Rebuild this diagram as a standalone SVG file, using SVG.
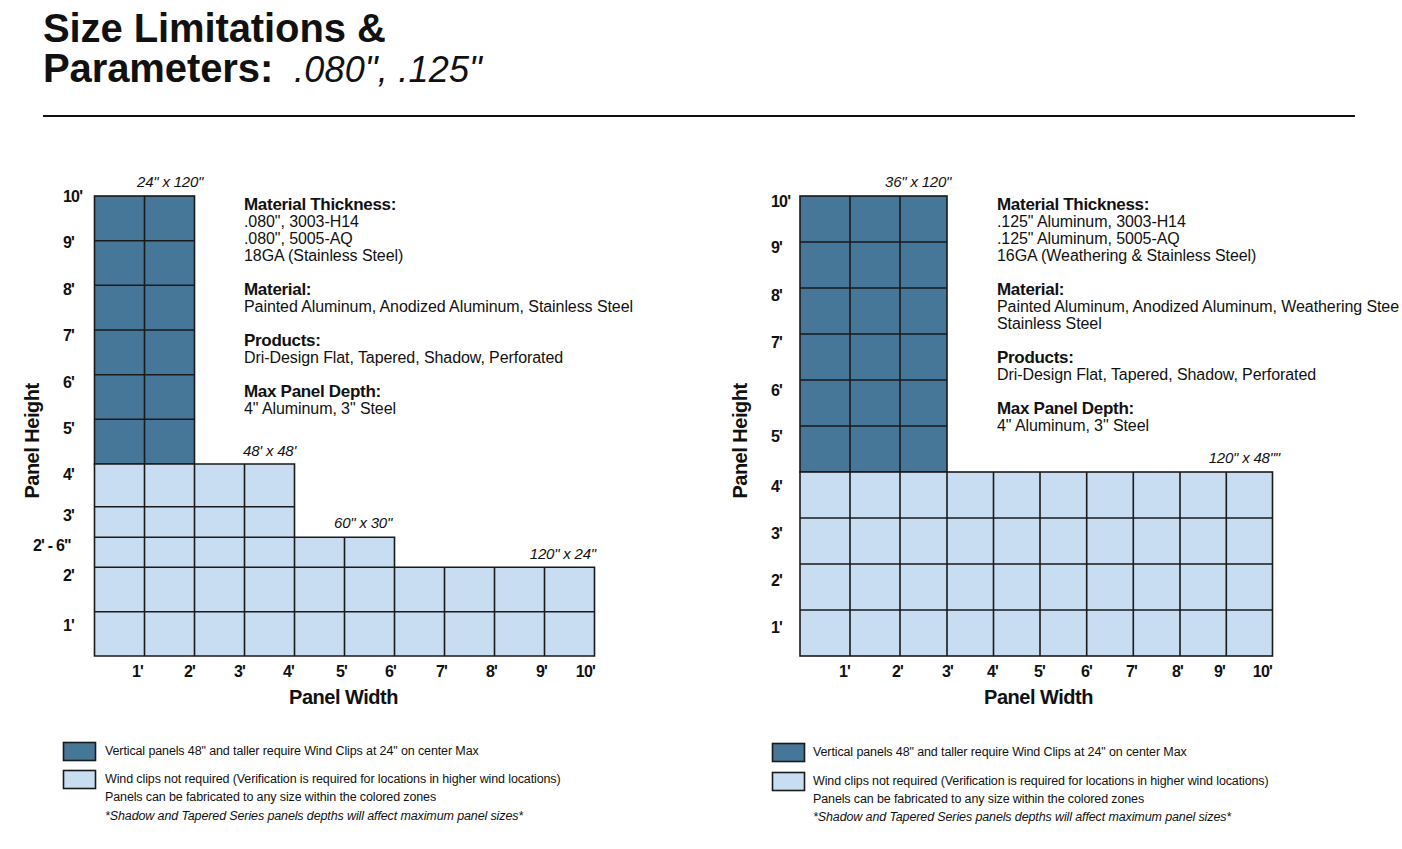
<svg xmlns="http://www.w3.org/2000/svg" width="1402" height="849" viewBox="0 0 1402 849">
<style>
text{font-family:"Liberation Sans",Arial,sans-serif;fill:#111}
.title{font-size:40px;font-weight:bold;letter-spacing:-0.1px}
.titlei{font-size:36px;font-style:italic;font-weight:normal;letter-spacing:0.2px}
.ax{font-size:16px;font-weight:bold;letter-spacing:-0.8px}
.axn{font-size:20px;font-weight:bold;letter-spacing:-0.5px}
.h{font-size:17px;font-weight:bold;letter-spacing:-0.3px}
.b{font-size:16px;letter-spacing:-0.08px}
.an{font-size:15px;font-style:italic;letter-spacing:-0.2px}
.lg{font-size:12.5px;letter-spacing:-0.12px}
.lgi{font-size:12.5px;font-style:italic;letter-spacing:-0.12px}
.dark{fill:#467698;stroke:#1a1a1a;stroke-width:1.6}
.light{fill:#c8dcf2;stroke:#1a1a1a;stroke-width:1.6}
.grid{fill:none;stroke:#1a1a1a;stroke-width:1.6}
</style>

<g id="title">
<text class="title" x="43" y="42">Size Limitations &amp;</text>
<text class="title" x="43" y="82">Parameters: <tspan class="titlei" x="294">.080", .125"</tspan></text>
<line x1="43" y1="116" x2="1355" y2="116" stroke="#111" stroke-width="2"/>
</g>

<!-- LEFT CHART -->
<g id="left-chart">
<g id="left-dark-zone">
<rect class="dark" x="94.5" y="196" width="100" height="268"/>
<path class="grid" d="M144.5 196V464M94.5 240.7H194.5M94.5 285.3H194.5M94.5 330H194.5M94.5 374.7H194.5M94.5 419.3H194.5"/>
</g>
<g id="left-light-zone">
<path class="light" d="M94.5 464H294.5V537.3H394.5V567.3H594.5V656H94.5Z"/>
<path class="grid" d="M94.5 506.7H294.5M94.5 537.3H294.5M94.5 567.3H394.5M94.5 611.7H594.5M144.5 464V656M194.5 464V656M244.5 464V656M294.5 537.3V656M344.5 537.3V656M394.5 567.3V656M444.5 567.3V656M494.5 567.3V656M544.5 567.3V656"/>
</g>
<g id="left-annotations">
<text class="an" x="137" y="187">24" x 120"</text>
<text class="an" x="243" y="456">48' x 48'</text>
<text class="an" x="334" y="528">60" x 30"</text>
<text class="an" x="596" y="559" text-anchor="end">120" x 24"</text>
</g>
<g id="left-y-axis">
<text class="ax" x="63" y="202">10'</text>
<text class="ax" x="63" y="248">9'</text>
<text class="ax" x="63" y="295">8'</text>
<text class="ax" x="63" y="341">7'</text>
<text class="ax" x="63" y="388">6'</text>
<text class="ax" x="63" y="434">5'</text>
<text class="ax" x="63" y="480">4'</text>
<text class="ax" x="63" y="521">3'</text>
<text class="ax" x="33" y="551">2' - 6"</text>
<text class="ax" x="63" y="581">2'</text>
<text class="ax" x="63" y="631">1'</text>
<text class="axn" transform="translate(39,441) rotate(-90)" text-anchor="middle">Panel Height</text>
</g>
<g id="left-x-axis" text-anchor="end">
<text class="ax" x="143" y="677">1'</text>
<text class="ax" x="195" y="677">2'</text>
<text class="ax" x="245" y="677">3'</text>
<text class="ax" x="294" y="677">4'</text>
<text class="ax" x="347" y="677">5'</text>
<text class="ax" x="396" y="677">6'</text>
<text class="ax" x="447" y="677">7'</text>
<text class="ax" x="497" y="677">8'</text>
<text class="ax" x="547" y="677">9'</text>
<text class="ax" x="595" y="677">10'</text>
<text class="axn" x="343.5" y="704" text-anchor="middle">Panel Width</text>
</g>
<g id="left-specs">
<text class="h" x="244" y="210">Material Thickness:</text>
<text class="b" x="244" y="227">.080", 3003-H14</text>
<text class="b" x="244" y="244">.080", 5005-AQ</text>
<text class="b" x="244" y="261">18GA (Stainless Steel)</text>
<text class="h" x="244" y="295">Material:</text>
<text class="b" x="244" y="312">Painted Aluminum, Anodized Aluminum, Stainless Steel</text>
<text class="h" x="244" y="346">Products:</text>
<text class="b" x="244" y="363">Dri-Design Flat, Tapered, Shadow, Perforated</text>
<text class="h" x="244" y="397">Max Panel Depth:</text>
<text class="b" x="244" y="414">4" Aluminum, 3" Steel</text>
</g>
<g id="left-legend">
<rect class="dark" x="63.5" y="742.5" width="32" height="18"/>
<rect class="light" x="63.5" y="770.5" width="32" height="18"/>
<text class="lg" x="105" y="755">Vertical panels 48" and taller require Wind Clips at 24" on center Max</text>
<text class="lg" x="105" y="783">Wind clips not required (Verification is required for locations in higher wind locations)</text>
<text class="lg" x="105" y="801">Panels can be fabricated to any size within the colored zones</text>
<text class="lgi" x="105" y="820">*Shadow and Tapered Series panels depths will affect maximum panel sizes*</text>
</g>
</g>

<!-- RIGHT CHART -->
<g id="right-chart">
<g id="right-dark-zone">
<rect class="dark" x="800" y="196" width="147" height="276"/>
<path class="grid" d="M850 196V472M900 196V472M800 242H947M800 288H947M800 334H947M800 380H947M800 426H947"/>
</g>
<g id="right-light-zone">
<rect class="light" x="800" y="472" width="472.5" height="184"/>
<path class="grid" d="M850 472V656M900 472V656M947 472V656M993.5 472V656M1040 472V656M1086.7 472V656M1133.3 472V656M1180 472V656M1226.3 472V656M800 518H1272.5M800 564H1272.5M800 610H1272.5"/>
</g>
<g id="right-annotations">
<text class="an" x="885" y="187">36" x 120"</text>
<text class="an" x="1280" y="463" text-anchor="end">120" x 48""</text>
</g>
<g id="right-y-axis">
<text class="ax" x="771" y="207">10'</text>
<text class="ax" x="771" y="253">9'</text>
<text class="ax" x="771" y="301">8'</text>
<text class="ax" x="771" y="348">7'</text>
<text class="ax" x="771" y="396">6'</text>
<text class="ax" x="771" y="442">5'</text>
<text class="ax" x="771" y="492">4'</text>
<text class="ax" x="771" y="539">3'</text>
<text class="ax" x="771" y="586">2'</text>
<text class="ax" x="771" y="633">1'</text>
<text class="axn" transform="translate(747,441) rotate(-90)" text-anchor="middle">Panel Height</text>
</g>
<g id="right-x-axis" text-anchor="end">
<text class="ax" x="850" y="677">1'</text>
<text class="ax" x="903" y="677">2'</text>
<text class="ax" x="953" y="677">3'</text>
<text class="ax" x="998" y="677">4'</text>
<text class="ax" x="1045" y="677">5'</text>
<text class="ax" x="1092" y="677">6'</text>
<text class="ax" x="1137" y="677">7'</text>
<text class="ax" x="1183" y="677">8'</text>
<text class="ax" x="1225" y="677">9'</text>
<text class="ax" x="1272" y="677">10'</text>
<text class="axn" x="1038.5" y="704" text-anchor="middle">Panel Width</text>
</g>
<g id="right-specs">
<text class="h" x="997" y="210">Material Thickness:</text>
<text class="b" x="997" y="227">.125" Aluminum, 3003-H14</text>
<text class="b" x="997" y="244">.125" Aluminum, 5005-AQ</text>
<text class="b" x="997" y="261">16GA (Weathering &amp; Stainless Steel)</text>
<text class="h" x="997" y="295">Material:</text>
<text class="b" x="997" y="312">Painted Aluminum, Anodized Aluminum, Weathering Stee</text>
<text class="b" x="997" y="329">Stainless Steel</text>
<text class="h" x="997" y="363">Products:</text>
<text class="b" x="997" y="380">Dri-Design Flat, Tapered, Shadow, Perforated</text>
<text class="h" x="997" y="414">Max Panel Depth:</text>
<text class="b" x="997" y="431">4" Aluminum, 3" Steel</text>
</g>
<g id="right-legend">
<rect class="dark" x="772.5" y="743.5" width="32" height="18"/>
<rect class="light" x="772.5" y="772.5" width="32" height="18"/>
<text class="lg" x="813" y="756">Vertical panels 48" and taller require Wind Clips at 24" on center Max</text>
<text class="lg" x="813" y="785">Wind clips not required (Verification is required for locations in higher wind locations)</text>
<text class="lg" x="813" y="803">Panels can be fabricated to any size within the colored zones</text>
<text class="lgi" x="813" y="821">*Shadow and Tapered Series panels depths will affect maximum panel sizes*</text>
</g>
</g>
</svg>
